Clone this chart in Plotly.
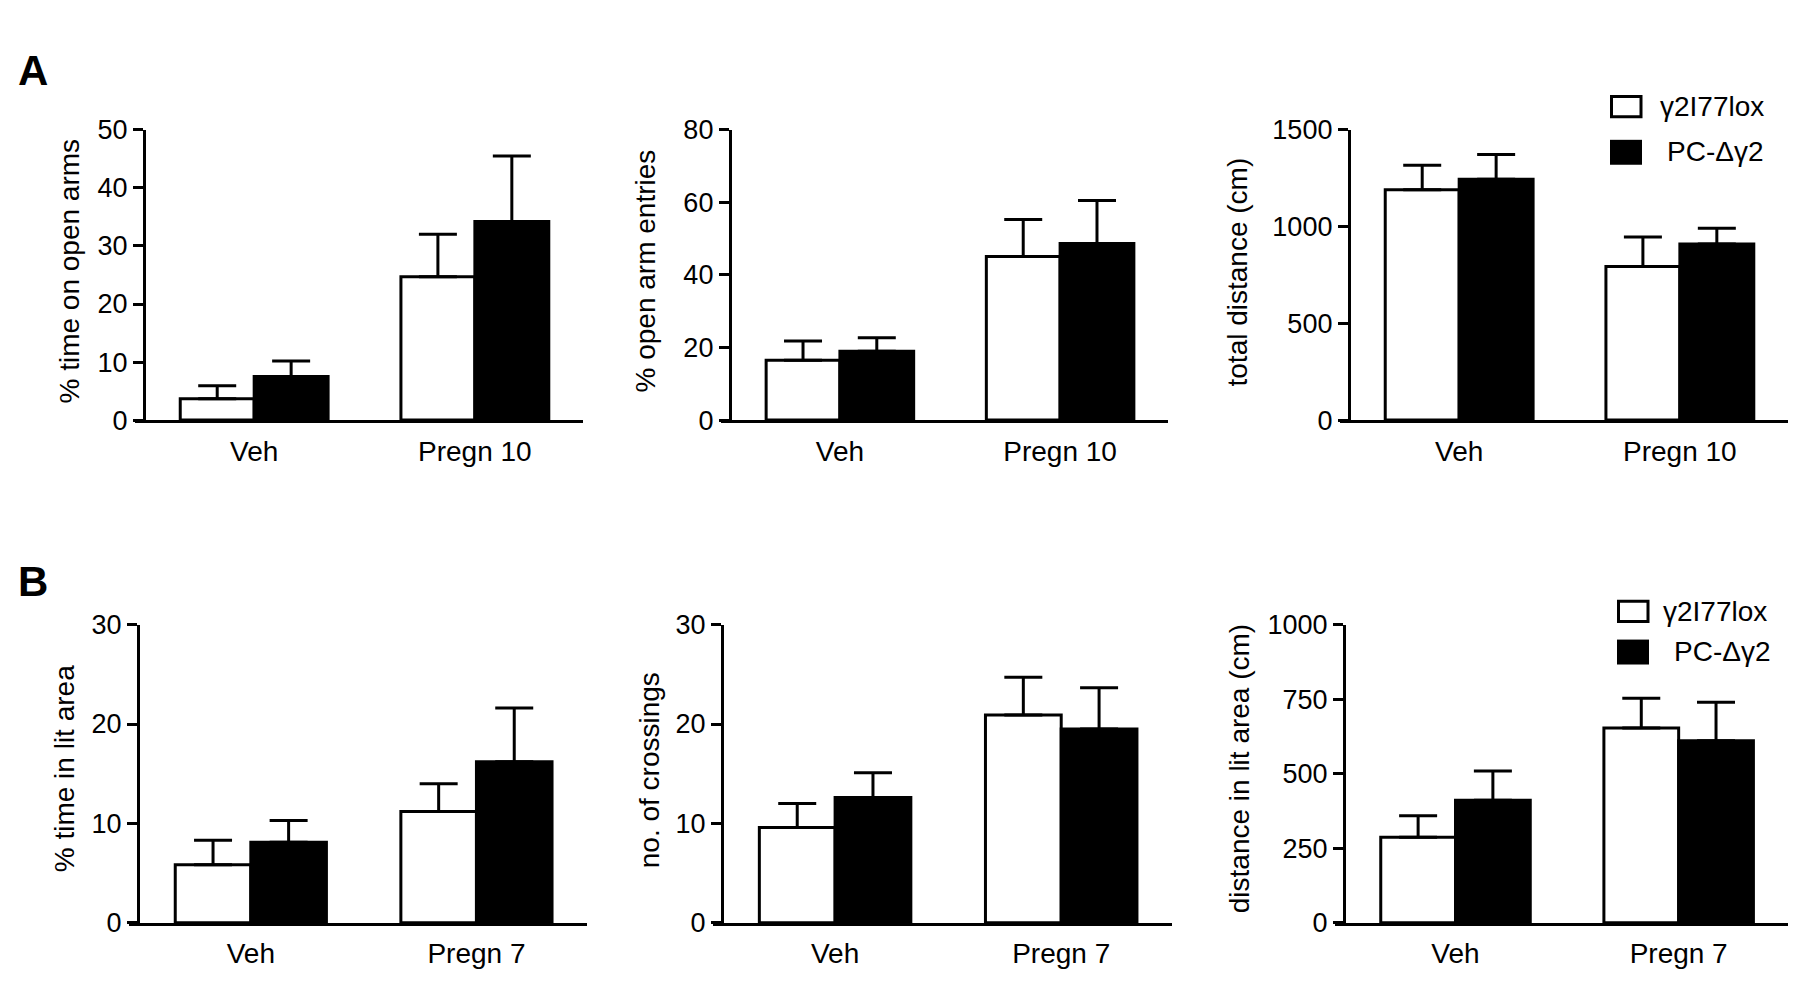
import plotly.graph_objects as go
from plotly.subplots import make_subplots

W, H = 1800, 984
# the captured page is offset from the figure (body margin etc.), compensate
OFFSET_X = 8
OFFSET_Y = 21.5
STRETCH_Y = 1.0289

# categories
groups_a = ['Veh', 'Pregn 10']
groups_b = ['Veh', 'Pregn 7']
series_names = ['γ2I77lox', 'PC-Δγ2']

# A - elevated plus maze (mean and upper SEM)
open_time_ctrl = [3.7, 24.7]
open_time_ctrl_err = [2.2, 7.3]
open_time_ko = [7.5, 34.2]
open_time_ko_err = [2.7, 11.3]

open_entries_ctrl = [16.5, 45.1]
open_entries_ctrl_err = [5.3, 10.2]
open_entries_ko = [19.0, 48.7]
open_entries_ko_err = [3.7, 11.8]

total_dist_ctrl = [1191, 794]
total_dist_ctrl_err = [126, 152]
total_dist_ko = [1245, 910]
total_dist_ko_err = [128, 81]

# B - light/dark box
lit_time_ctrl = [5.85, 11.2]
lit_time_ctrl_err = [2.45, 2.8]
lit_time_ko = [8.1, 16.2]
lit_time_ko_err = [2.2, 5.4]

crossings_ctrl = [9.6, 20.9]
crossings_ctrl_err = [2.4, 3.8]
crossings_ko = [12.6, 19.5]
crossings_ko_err = [2.5, 4.15]

lit_dist_ctrl = [287, 653]
lit_dist_ctrl_err = [72, 100]
lit_dist_ko = [411, 611]
lit_dist_ko_err = [98, 129]

FONT = 'Liberation Sans, Arial, sans-serif'


def fx(px):
    return (px - OFFSET_X) / W


def fy(py):
    return 1 - (py * STRETCH_Y - OFFSET_Y) / H


panels = [
    (1, 1, groups_a, open_time_ctrl, open_time_ctrl_err, open_time_ko, open_time_ko_err,
     '% time on open arms', 50, 10),
    (1, 2, groups_a, open_entries_ctrl, open_entries_ctrl_err, open_entries_ko, open_entries_ko_err,
     '% open arm entries', 80, 20),
    (1, 3, groups_a, total_dist_ctrl, total_dist_ctrl_err, total_dist_ko, total_dist_ko_err,
     'total distance (cm)', 1500, 500),
    (2, 1, groups_b, lit_time_ctrl, lit_time_ctrl_err, lit_time_ko, lit_time_ko_err,
     '% time in lit area', 30, 10),
    (2, 2, groups_b, crossings_ctrl, crossings_ctrl_err, crossings_ko, crossings_ko_err,
     'no. of crossings', 30, 10),
    (2, 3, groups_b, lit_dist_ctrl, lit_dist_ctrl_err, lit_dist_ko, lit_dist_ko_err,
     'distance in lit area (cm)', 1000, 250),
]

# pixel placement of each panel (x axis line extent, y axis top/bottom)
x_dom_px = {(1, 1): (135, 583), (1, 2): (721, 1168), (1, 3): (1340, 1788),
            (2, 1): (129, 587), (2, 2): (713, 1172), (2, 3): (1335, 1788)}
y_dom_px = {1: (128, 419), 2: (624, 923)}
title_px = {(1, 1): (69, 270), (1, 2): (645, 270), (1, 3): (1237, 271),
            (2, 1): (64, 769), (2, 2): (649, 770), (2, 3): (1239, 769)}
x_range = [-0.54, 1.49]

fig = make_subplots(rows=2, cols=3)

for i, (r, c, cats, ctrl, ctrl_err, ko, ko_err, ytitle, ymax, dtick) in enumerate(panels):
    for name, vals, errs, col in [(series_names[0], ctrl, ctrl_err, 'white'),
                                  (series_names[1], ko, ko_err, 'black')]:
        fig.add_trace(go.Bar(
            x=cats, y=vals, name=name,
            marker=dict(color=col, line=dict(color='black', width=3)),
            error_y=dict(type='data', array=errs, arrayminus=[0] * len(errs), symmetric=False,
                         color='black', thickness=3, width=19),
            showlegend=False,
        ), row=r, col=c)

    n = '' if i == 0 else str(i + 1)
    x0, x1 = x_dom_px[(r, c)]
    y0, y1 = y_dom_px[r]
    ypos = fx(x0 + (x1 - x0) * (-0.5 - x_range[0]) / (x_range[1] - x_range[0]))
    fig.layout['xaxis' + n].update(
        domain=[fx(x0), fx(x1)], range=x_range, showline=True, linecolor='black', linewidth=3,
        ticks='outside', ticklen=4, tickcolor='rgba(0,0,0,0)', showgrid=False, zeroline=False,
        tickfont=dict(family=FONT, size=28, color='black'), fixedrange=True,
    )
    fig.layout['yaxis' + n].update(
        domain=[fy(y1), fy(y0)], range=[0, ymax], dtick=dtick, anchor='free', position=ypos,
        showline=True, linecolor='black', linewidth=3, ticks='outside', ticklen=10, tickwidth=3,
        tickcolor='black', showgrid=False, zeroline=False,
        tickfont=dict(family=FONT, size=27, color='black'),
    )
    tx, ty = title_px[(r, c)]
    fig.add_annotation(text=ytitle, xref='paper', yref='paper', x=fx(tx), y=fy(ty),
                       xanchor='center', yanchor='middle', textangle=-90, showarrow=False,
                       font=dict(family=FONT, size=28, color='black'))

# panel letters
for letter, py in [('A', 69), ('B', 581)]:
    fig.add_annotation(text='<b>%s</b>' % letter, xref='paper', yref='paper', x=fx(16), y=fy(py),
                       xanchor='left', yanchor='middle', showarrow=False,
                       font=dict(family=FONT, size=42, color='black'))

# legend boxes for the right-hand panels
legend_px = [(1610, 93, 138, 1658, 1665), (1617, 599, 639, 1661, 1672)]
for bx, wy, ky, tx1, tx2 in legend_px:
    fig.add_shape(type='rect', xref='paper', yref='paper', x0=fx(bx + 1.5), x1=fx(bx + 31),
                  y0=fy(wy + 1.5), y1=fy(wy + 22), line=dict(color='black', width=3),
                  fillcolor='white')
    fig.add_shape(type='rect', xref='paper', yref='paper', x0=fx(bx), x1=fx(bx + 32),
                  y0=fy(ky), y1=fy(ky + 25), line=dict(color='black', width=0),
                  fillcolor='black')
    fig.add_annotation(text=series_names[0], xref='paper', yref='paper', x=fx(tx1),
                       y=fy(wy + 12), xanchor='left', yanchor='middle', showarrow=False,
                       font=dict(family=FONT, size=28, color='black'))
    fig.add_annotation(text=series_names[1], xref='paper', yref='paper', x=fx(tx2),
                       y=fy(ky + 12), xanchor='left', yanchor='middle', showarrow=False,
                       font=dict(family=FONT, size=28, color='black'))

fig.update_layout(
    width=W, height=H, margin=dict(l=0, r=0, t=0, b=0),
    barmode='group', bargap=0.33, bargroupgap=0,
    paper_bgcolor='white', plot_bgcolor='white', showlegend=False,
)

fig.write_html("out.html")
